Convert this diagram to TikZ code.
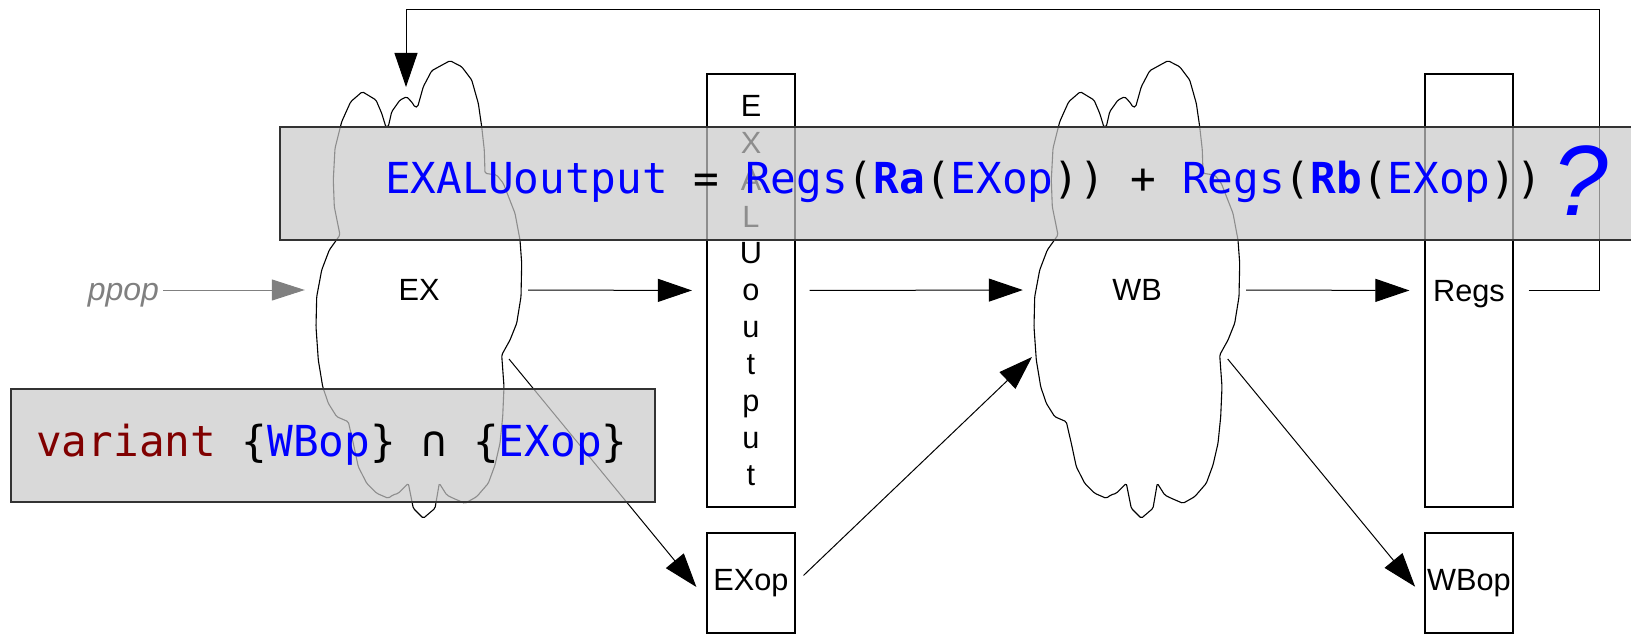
\documentclass[tikz,border=0pt]{standalone}
\usepackage{fontspec}
\setmainfont{Liberation Sans}
\newfontfamily\codefont{DejaVu Sans Mono}
\usetikzlibrary{arrows.meta,calc}
\definecolor{shade}{RGB}{201,201,201}
\definecolor{keyred}{RGB}{128,0,0}
\definecolor{fadegray}{RGB}{128,128,128}
\begin{document}
\begin{tikzpicture}[x=1pt,y=-1pt,
  cloudline/.style={draw=black, line width=1.1pt, line join=round, rounded corners=1.5pt},
  cloudarea/.style={minimum width=206pt, minimum height=458pt, inner sep=0pt,
    font=\fontsize{30.7}{37}\selectfont},
  regbox/.style={draw, line width=1.2pt, minimum width=88pt, minimum height=433pt,
    inner sep=0pt, align=center, font=\fontsize{30.7}{36.95}\selectfont},
  opbox/.style={draw, line width=1.2pt, minimum width=88pt, minimum height=100pt,
    inner sep=0pt, font=\fontsize{30.7}{37}\selectfont},
  flow/.style={line width=1pt, -{Triangle[length=34pt,width=23pt]}},
  shadebox/.style={draw=black!80, line width=1.8pt, fill=shade, fill opacity=0.7,
    draw opacity=1, inner sep=0pt, anchor=north west},
  code/.style={inner sep=0pt, anchor=base west, text opacity=1,
    font=\codefont\fontsize{42.7}{50}\selectfont}
]
\clip (0,0) rectangle (1631,634);

% pipeline stages drawn as clouds (EX, then WB shifted right)
\foreach \dx in {0,718} {
  \draw[cloudline, shift={(\dx,0)}]
    (386,127.3) -- (381.7,113.3) -- (376,100) -- (362.3,91.7) -- (350.7,101.7)
    -- (341.7,121.7) -- (335,148.3) -- (333.3,180) -- (334.3,206.7) -- (340,235)
    -- (329.3,250) -- (321.7,270) -- (316.7,296.7) -- (316,326.7) -- (318.3,360)
    -- (322.7,386.7) -- (328.3,403.3) -- (336.7,416.7) -- (348.3,421.7)
    -- (353.3,443.3) -- (358.3,466.7) -- (366.7,483.3) -- (376.7,493.3)
    -- (388.3,498.3) -- (392.7,495) -- (398.3,493.3) -- (408.3,483.3)
    -- (413.3,508.3) -- (423.3,518.3) -- (435,508.3) -- (439.3,483.3)
    -- (446.7,495) -- (453.3,498.3) -- (465,503.3) -- (476.7,496.7)
    -- (488.3,483.3) -- (495,465) -- (500,443.3) -- (502.7,416.7) -- (504,386.7)
    -- (501.7,355) -- (510,340) -- (516.7,323.3) -- (521,296.7) -- (521.7,263.3)
    -- (520,240) -- (515,213.3) -- (503.3,183.3) -- (496.7,175) -- (485,173.3)
    -- (484.3,150) -- (481.7,126.7) -- (478.3,103.3) -- (471.7,80) -- (461.7,66.7)
    -- (450,60.7) -- (431.7,70.7) -- (423.3,86.7) -- (417.7,106.7) -- (415,107.3)
    -- (412.3,102.7) -- (406.7,96.7) -- (400,100) -- (391.7,111.7) -- (388.3,126.7)
    -- cycle;
}
\node[cloudarea] (ex) at (419,290) {EX};
\node[cloudarea] (wb) at (1137,290) {WB};

% latches and register file
\node[regbox] (exalu) at (751,290.5) {E\\X\\A\\L\\U\\o\\u\\t\\p\\u\\t};
\node[regbox, text height=28pt] (regs) at (1469,290.5) {Regs};
\node[opbox] (exop) at (751,583) {EXop};
\node[opbox] (wbop) at (1469,583) {WBop};

\node[inner sep=0pt, anchor=base, text=fadegray,
  font=\itshape\fontsize{32}{38}\selectfont] (ppop) at (123.4,300) {ppop};

% ports on the clouds
\coordinate (exout) at (509,359);
\coordinate (wbout) at (1227.7,359);
\coordinate (wbin) at (1032,357);
\coordinate (fbk) at (1599,10);
\coordinate (fbin) at (406,87);

% data flow
\draw[flow, draw=fadegray, fill=fadegray,
  -{Triangle[length=33pt,width=21pt]}, shorten <=4pt, shorten >=11pt]
  (ppop.east |- ex.west) -- (ex.west);
\draw[flow, shorten <=6pt, shorten >=14.5pt] (ex.east) -- (exalu.west);
\draw[flow, shorten <=14pt, shorten >=11pt] (exalu.east) -- (wb.west);
\draw[flow, shorten <=6pt, shorten >=15pt] (wb.east) -- (regs.west);
\draw[flow, shorten <=15pt] (regs.east) -| (fbk) -| (fbin);
\draw[flow] (exout) -- ($(exop.west)+(-10,4)$);
\draw[flow, shorten <=11pt] (exop.east) -- (wbin);
\draw[flow] (wbout) -- ($(wbop.west)+(-9.3,3.7)$);

% annotation panels over the pipeline
\node[shadebox, minimum width=1361pt, minimum height=113pt] (formbox) at (279,126) {};
\node[shadebox, minimum width=643.6pt, minimum height=113pt] (varbox) at (10.4,388) {};

\node[code] (formula) at (385,193) {{\color{blue}EXALUoutput} = {\color{blue}Regs}({\color{blue}\bfseries Ra}({\color{blue}EXop})) + {\color{blue}Regs}({\color{blue}\bfseries Rb}({\color{blue}EXop}))};
\node[inner sep=0pt, anchor=base, text=blue,
  font=\itshape\fontsize{100}{104}\selectfont] (qmark) at (1580,215) {?};
\node[code] (variant) at (36,456) {{\color{keyred}variant} \{{\color{blue}WBop}\} ∩ \{{\color{blue}EXop}\}};
\end{tikzpicture}
\end{document}
